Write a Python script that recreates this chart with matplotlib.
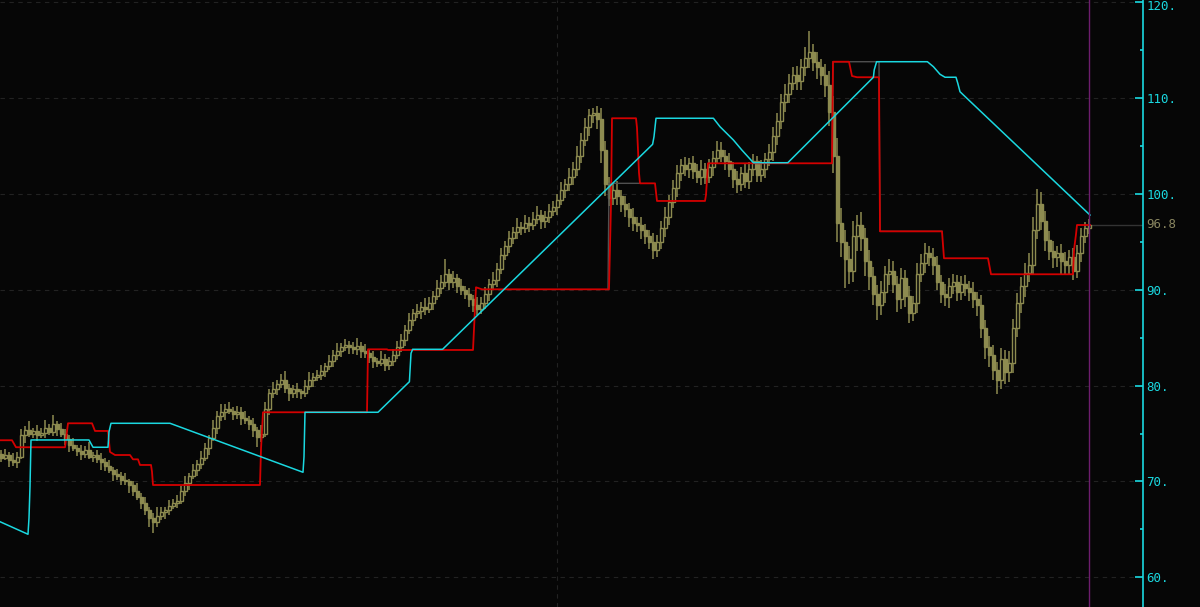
import numpy as np
import matplotlib.pyplot as plt
import matplotlib.transforms as mtransforms
from matplotlib.ticker import FixedLocator, FixedFormatter, MultipleLocator

# -- daily closes, one per bar -- #
closes = [
    72.5, 72.8, 72.2, 72.0, 72.6, 74.8, 75.4, 75.0, 75.3, 74.9,
    75.1, 75.6, 75.2, 76.0, 75.5, 75.0, 74.4, 73.8, 73.5, 73.2,
    72.9, 73.3, 72.6, 72.8, 72.3, 72.0, 71.6, 71.2, 70.8, 70.6,
    70.2, 70.0, 69.6, 69.0, 68.4, 67.8, 67.0, 66.2, 65.8, 66.4,
    66.8, 67.0, 67.4, 67.8, 68.0, 69.0, 69.8, 70.6, 71.2, 71.8,
    72.5, 73.5, 74.5, 75.6, 76.8, 77.2, 77.6, 77.4, 77.0, 77.3,
    76.6, 76.4, 76.0, 75.4, 74.6, 75.0, 77.6, 79.2, 79.6, 80.2,
    80.6, 79.8, 79.2, 79.6, 79.4, 79.2, 80.0, 80.6, 80.9, 81.1,
    81.5, 82.0, 82.6, 83.2, 83.6, 84.0, 84.2, 84.0, 83.8, 84.1,
    83.6, 83.4, 83.0, 82.6, 82.4, 82.8, 82.2, 82.6, 83.2, 84.0,
    84.8, 85.8, 86.8, 87.6, 87.8, 88.2, 88.0, 88.6, 89.4, 90.2,
    90.8, 91.6, 90.8, 91.2, 90.4, 90.0, 89.6, 89.0, 88.4, 88.0,
    88.6, 89.6, 90.6, 91.0, 92.2, 93.6, 94.6, 95.4, 96.0, 96.6,
    96.4, 97.0, 96.8, 97.4, 97.8, 97.2, 97.6, 98.2, 98.6, 99.4,
    100.4, 101.0, 101.8, 102.6, 104.0, 105.6, 107.0, 108.2, 108.4, 107.8,
    104.6, 101.0, 99.6, 100.4, 99.8, 99.0, 98.4, 97.6, 97.0, 96.8,
    96.2, 95.6, 95.0, 94.2, 95.0, 96.4, 97.6, 99.2, 100.6, 102.2,
    103.0, 102.6, 103.2, 102.4, 101.8, 102.6, 101.8, 102.8, 103.8, 104.6,
    104.0, 103.4, 102.6, 101.6, 101.0, 102.2, 101.4, 102.6, 103.4, 102.0,
    102.6, 103.6, 104.4, 106.0, 107.6, 109.6, 110.4, 111.6, 112.4, 111.8,
    113.2, 114.2, 114.8, 113.8, 113.2, 112.4, 111.4, 108.6, 104.0, 97.0,
    95.0, 93.2, 92.0, 95.6, 96.8, 95.4, 93.0, 91.4, 89.6, 88.4,
    89.8, 91.6, 92.0, 90.6, 89.0, 91.2, 89.4, 87.6, 88.6, 91.6,
    92.8, 93.8, 93.4, 92.6, 90.8, 89.6, 89.2, 90.4, 90.8, 89.8,
    90.6, 90.2, 89.8, 89.0, 88.4, 86.0, 84.0, 83.2, 81.6, 80.6,
    82.8, 81.4, 82.4, 86.0, 88.6, 90.4, 91.8, 92.6, 96.2, 99.0,
    97.2, 95.2, 94.0, 93.4, 93.8, 93.0, 92.6, 93.4, 92.0, 93.8,
    95.6, 96.4, 96.8,
]
first_open = 72.9

# wick lengths above / below the body
upper_wick = [
    0.4, 0.6, 0.3, 0.8, 0.5, 0.7, 0.4, 0.9, 0.3, 0.6,
    0.5, 0.8, 0.4, 0.9, 0.3, 0.6, 0.5, 0.4, 0.7, 0.3,
    0.6, 0.4, 0.8, 0.3, 0.5, 0.7, 0.4, 0.6, 0.3, 0.5,
    0.4, 0.7, 0.3, 0.5, 0.8, 0.4, 0.6, 0.3, 0.5, 0.9,
    0.5, 0.3, 0.7, 0.4, 0.6, 0.5, 0.8, 0.3, 0.6, 0.4,
    0.7, 0.5, 0.4, 0.8, 0.6, 0.9, 0.5, 0.7, 0.4, 0.6,
    0.5, 0.8, 0.4, 0.6, 0.3, 0.9, 0.7, 0.5, 0.8, 0.4,
    0.6, 0.9, 0.4, 0.5, 0.7, 0.3, 0.6, 0.8, 0.4, 0.5,
    0.7, 0.4, 0.6, 0.5, 0.8, 0.4, 0.7, 0.5, 0.6, 0.9,
    0.5, 0.7, 0.4, 0.6, 0.3, 0.8, 0.5, 0.4, 0.6, 0.7,
    0.6, 0.5, 0.8, 0.4, 0.7, 0.5, 0.9, 0.6, 0.5, 0.8,
    0.7, 1.6, 0.6, 0.8, 0.5, 0.7, 0.4, 0.6, 0.5, 0.8,
    0.6, 0.7, 0.5, 0.9, 0.6, 0.8, 0.5, 0.7, 0.6, 0.9,
    0.5, 0.8, 0.6, 0.7, 0.9, 0.5, 0.6, 0.8, 0.7, 0.6,
    0.8, 0.6, 0.9, 0.7, 1.0, 0.8, 0.9, 0.7, 0.6, 0.8,
    1.2, 0.9, 0.8, 0.7, 1.0, 0.6, 0.8, 0.7, 0.9, 0.6,
    0.8, 0.7, 0.6, 0.9, 0.7, 0.8, 1.0, 0.7, 0.9, 0.8,
    0.7, 0.9, 0.6, 0.8, 0.7, 0.9, 0.6, 0.8, 0.7, 0.9,
    0.8, 0.6, 0.9, 0.7, 0.8, 0.6, 0.9, 0.7, 0.8, 0.6,
    0.9, 0.7, 0.8, 1.0, 0.9, 0.8, 1.1, 0.9, 0.8, 1.0,
    0.9, 1.1, 2.2, 0.8, 1.0, 0.9, 1.2, 1.4, 1.6, 1.8,
    1.5, 1.2, 1.4, 1.6, 1.0, 1.3, 1.1, 1.2, 1.0, 0.9,
    1.1, 0.9, 1.2, 1.0, 0.8, 1.1, 0.9, 1.0, 0.8, 1.2,
    0.9, 1.1, 0.8, 1.0, 0.9, 0.7, 1.0, 0.8, 0.9, 0.7,
    0.8, 0.9, 0.7, 1.0, 0.8, 1.1, 0.9, 1.2, 1.0, 0.9,
    1.1, 0.9, 1.2, 1.0, 1.1, 0.9, 1.0, 1.2, 1.4, 1.5,
    1.2, 1.0, 0.9, 1.1, 0.8, 1.0, 0.9, 0.8, 1.0, 0.9,
    0.8, 0.7, 0.6,
]
lower_wick = [
    0.5, 0.3, 0.7, 0.4, 0.6, 0.3, 0.8, 0.4, 0.5, 0.7,
    0.4, 0.6, 0.3, 0.5, 0.8, 0.4, 0.6, 0.7, 0.3, 0.5,
    0.7, 0.5, 0.3, 0.6, 0.4, 0.8, 0.5, 0.3, 0.7, 0.4,
    0.6, 0.4, 0.8, 0.5, 0.3, 0.7, 0.5, 0.9, 1.2, 0.6,
    0.4, 0.7, 0.5, 0.3, 0.6, 0.4, 0.5, 0.7, 0.3, 0.6,
    0.5, 0.4, 0.7, 0.3, 0.6, 0.5, 0.8, 0.4, 0.6, 0.5,
    0.7, 0.4, 0.6, 0.8, 1.0, 0.5, 0.4, 0.7, 0.5, 0.6,
    0.4, 0.6, 0.8, 0.5, 0.7, 0.6, 0.4, 0.5, 0.7, 0.4,
    0.5, 0.6, 0.4, 0.7, 0.5, 0.6, 0.4, 0.7, 0.5, 0.6,
    0.7, 0.5, 0.6, 0.8, 0.5, 0.4, 0.7, 0.6, 0.5, 0.4,
    0.5, 0.7, 0.4, 0.6, 0.5, 0.8, 0.6, 0.4, 0.7, 0.5,
    0.6, 0.5, 0.8, 0.6, 0.7, 0.5, 0.6, 0.8, 0.7, 0.6,
    0.5, 0.6, 0.8, 0.5, 0.7, 0.6, 0.5, 0.8, 0.6, 0.7,
    0.7, 0.5, 0.8, 0.6, 0.5, 0.9, 0.7, 0.6, 0.5, 0.8,
    0.6, 0.8, 0.7, 0.9, 0.7, 0.8, 0.6, 0.9, 0.8, 1.0,
    1.4, 1.2, 0.9, 0.8, 1.0, 0.9, 0.8, 1.0, 0.9, 0.8,
    0.9, 0.8, 0.7, 1.0, 0.8, 0.7, 0.9, 0.8, 0.7, 0.9,
    0.8, 0.7, 0.9, 0.8, 0.7, 0.9, 0.8, 0.7, 0.9, 0.6,
    0.7, 0.9, 0.8, 1.0, 0.9, 0.7, 0.8, 0.9, 0.7, 0.8,
    0.8, 0.9, 0.7, 1.0, 0.9, 0.8, 1.0, 0.9, 0.8, 1.0,
    1.0, 0.9, 1.1, 1.0, 1.2, 1.0, 1.3, 1.5, 1.8, 2.0,
    1.6, 3.0, 1.4, 1.2, 1.5, 1.3, 1.6, 1.4, 1.2, 1.5,
    1.0, 1.2, 1.1, 0.9, 1.3, 1.0, 1.2, 1.1, 0.9, 1.0,
    0.8, 1.0, 0.9, 1.1, 0.8, 1.0, 0.9, 1.1, 0.8, 1.0,
    0.9, 0.8, 1.0, 0.9, 1.1, 1.0, 1.2, 1.3, 1.0, 1.5,
    0.9, 1.2, 1.0, 1.1, 0.9, 1.0, 1.2, 1.0, 1.1, 0.9,
    1.0, 1.2, 0.9, 1.1, 1.0, 1.4, 1.1, 0.9, 1.0, 0.8,
    0.9, 0.7, 0.6,
]

# -- indicator lines: (bar position, price) vertices -- #
red_x = [-0.25, 2.75, 3.75, 16.0, 16.75, 22.75, 23.5, 26.75, 27.25, 28.5,
         32.25, 33.0, 34.25, 34.75, 37.5, 37.75, 38.0, 64.75, 65.0, 65.5,
         91.5, 91.75, 96.5, 96.75, 118.0, 118.75, 120.25, 152.0, 152.5, 152.75,
         158.75, 159.0, 159.25, 159.5, 159.75, 163.5, 164.0, 176.0, 176.25, 176.75,
         207.75, 208.0, 212.0, 212.75, 214.0, 219.5, 219.75, 235.25, 235.75, 246.75,
         247.5, 268.0, 268.25, 268.75, 269.0, 272.25]
red_y = [74.30, 74.30, 73.57, 73.57, 76.07, 76.07, 75.27, 75.27, 73.08, 72.76,
         72.76, 72.31, 72.31, 71.72, 71.72, 71.02, 69.63, 69.63, 73.39, 77.22,
         77.22, 83.79, 83.79, 83.72, 83.72, 90.26, 90.05, 90.05, 98.95, 107.90,
         107.90, 106.9, 104.6, 102.2, 101.11, 101.11, 99.27, 99.27, 99.9, 103.20,
         103.20, 113.80, 113.80, 112.31, 112.18, 112.18, 96.1, 96.1, 93.29, 93.29,
         91.62, 91.62, 94.15, 95.79, 96.76, 96.76]

# dim lagging line, two separate pieces (nan breaks the line)
gray_x = [151.75, 152.0, 159.75, np.nan, 207.75, 208.0, 219.5, 219.75, 235.25]
gray_y = [90.05, 101.11, 101.11, np.nan, 103.20, 113.80, 113.80, 96.1, 96.1]

cyan_x = [-0.25, 6.75, 7.0, 7.25, 7.5, 22.0, 23.0, 26.75, 27.0, 27.5,
          42.25, 75.5, 75.75, 76.0, 94.25, 102.1, 102.5, 102.9, 110.4, 162.9,
          163.25, 163.75, 178.1, 179.75, 183.1, 185.2, 188.1, 196.7, 218.1, 218.3,
          218.9, 231.6, 233.1, 234.75, 236.0, 238.75, 239.2, 239.75, 240.6, 271.8,
          272.25]
cyan_y = [65.80, 64.49, 66.19, 69.45, 74.33, 74.33, 73.57, 73.57, 75.19, 76.07,
          76.07, 70.96, 72.58, 77.22, 77.22, 80.41, 83.37, 83.79, 83.79, 105.18,
          105.98, 107.90, 107.90, 107.02, 105.63, 104.59, 103.26, 103.26, 112.18, 112.94,
          113.80, 113.80, 113.28, 112.49, 112.18, 112.18, 111.55, 110.67, 110.33, 97.98,
          97.8]

last_price = 96.8
ytick_vals = [60, 70, 80, 90, 100, 110, 120]
ytick_labels = ['60.', '70.', '80.', '90.', '100.', '110.', '120.']

# ---------------------------------------------------- #
bg = '#060606'
olive = '#8d8b50'
cyan = '#1ad8e0'
closes = np.asarray(closes)
opens = np.concatenate([[first_open], closes[:-1]])
highs = np.maximum(opens, closes) + np.asarray(upper_wick)
lows = np.minimum(opens, closes) - np.asarray(lower_wick)
bars = np.arange(len(closes))

fig = plt.figure(figsize=(12, 6.07), dpi=100, facecolor=bg)
ax = fig.add_axes([0, 0, 1143/1200, 1])
ax.set_facecolor(bg)

# faint dashed grid
for v in ytick_vals:
    ax.axhline(v, color='#222222', lw=0.8, ls=(0, (4, 4)), zorder=0)
ax.axvline(139, color='#222222', lw=0.8, ls=(0, (4, 4)), zorder=0)

# candles: hollow when up, filled when down
up = closes >= opens
ax.vlines(bars, lows, highs, color=olive, lw=1.1, zorder=2)
ax.bar(bars[up], (closes - opens)[up], bottom=opens[up], width=0.75,
       facecolor=bg, edgecolor=olive, lw=1.0, zorder=3)
ax.bar(bars[~up], (closes - opens)[~up], bottom=opens[~up], width=0.75,
       facecolor=olive, edgecolor=olive, lw=1.0, zorder=3)

# lines
ax.plot(gray_x, gray_y, color='#505050', lw=1.0, zorder=4)
ax.plot(red_x, red_y, color='#d40000', lw=1.3, zorder=5)
ax.plot(cyan_x, cyan_y, color=cyan, lw=1.1, zorder=6)

# current bar marker + last price
ax.axvline(bars[-1], color='#6e1d6e', lw=1.0, zorder=7)
ax.hlines(last_price, bars[-1] - 1, 300, color='#333333', lw=1.0, zorder=1)

ax.set_xlim(-0.25, 285.5)
ax.set_ylim(56.9, 120.24)

for s in ['top', 'bottom', 'left']:
    ax.spines[s].set_visible(False)
ax.spines['right'].set_color(cyan)
ax.spines['right'].set_linewidth(1.2)
ax.xaxis.set_visible(False)
ax.yaxis.tick_right()
ax.yaxis.set_major_locator(FixedLocator(ytick_vals))
ax.yaxis.set_major_formatter(FixedFormatter(ytick_labels))
ax.yaxis.set_minor_locator(MultipleLocator(5))
ax.tick_params(axis='y', which='major', direction='in', length=6, width=1.2,
               colors=cyan, labelsize=9, pad=2.5)
ax.tick_params(axis='y', which='minor', direction='in', length=2.5, width=1.2,
               colors=cyan)
labels = ax.get_yticklabels()
for t in labels:
    t.set_family('DejaVu Sans Mono')
# nudge the top label down a little so it is not clipped by the figure edge
labels[-1].set_transform(labels[-1].get_transform() +
                         mtransforms.ScaledTranslation(0, -3/100, fig.dpi_scale_trans))

ax.annotate(f'{last_price:.1f}', xy=(1.0, last_price), xycoords=('axes fraction', 'data'),
            xytext=(2.5, 0), textcoords='offset points', va='center', ha='left',
            color='#8a8660', fontsize=9, family='DejaVu Sans Mono', annotation_clip=False)

plt.savefig('out.png', dpi=100, facecolor=bg)
plt.close()
